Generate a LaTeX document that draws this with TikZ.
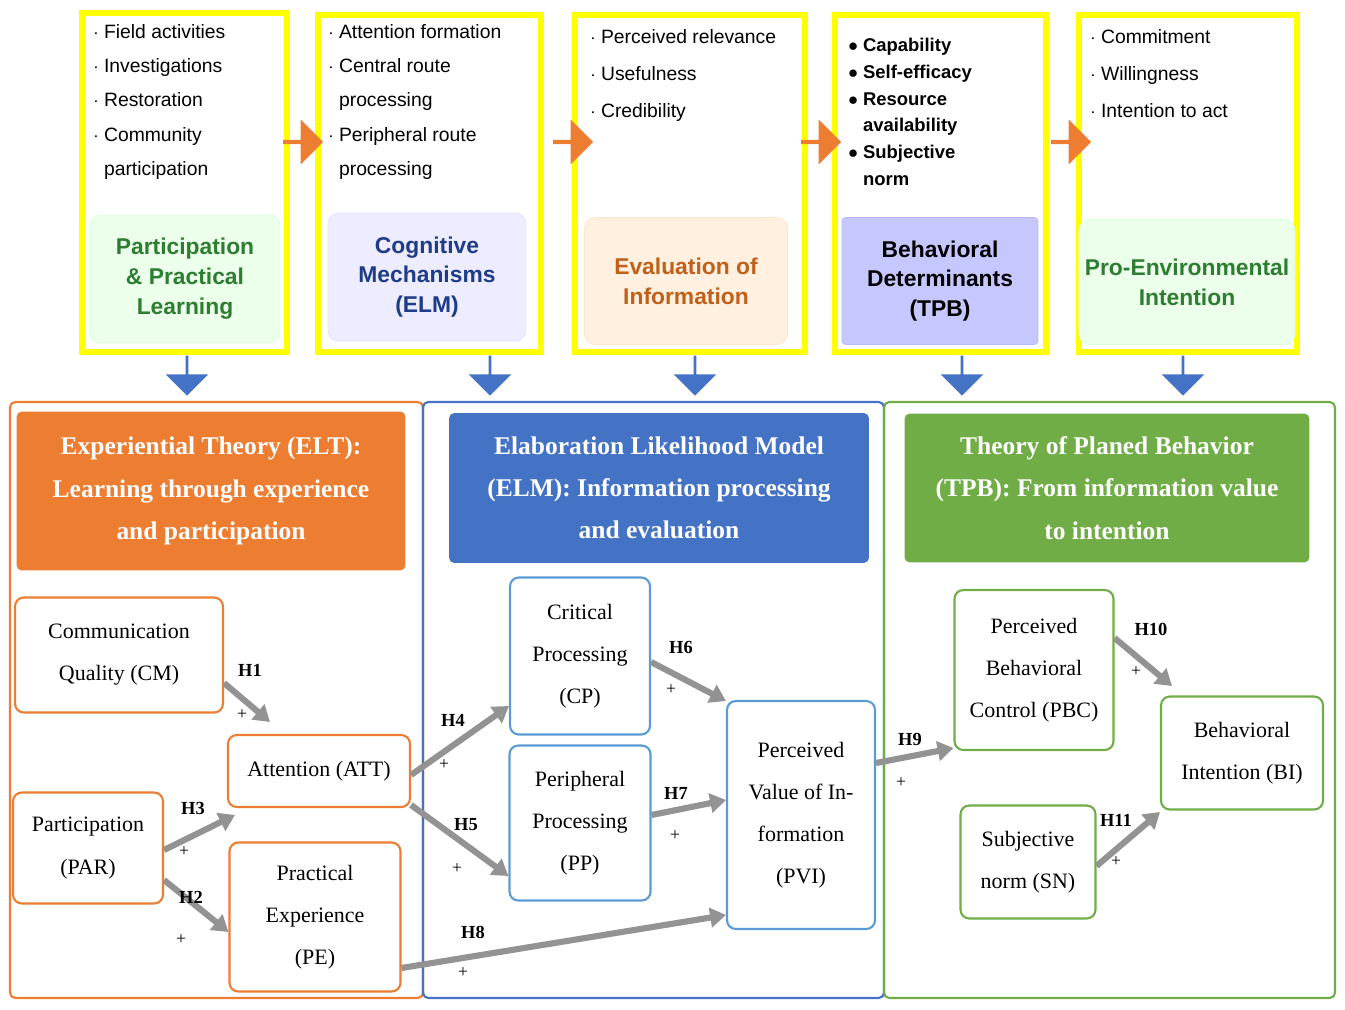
\documentclass[tikz,border=0pt]{standalone}
\usepackage{fontspec}
\setmainfont{Liberation Serif}
\newfontfamily\sansf{Liberation Sans}
\usetikzlibrary{arrows.meta,shapes.arrows}
\definecolor{ylw}{HTML}{FFFF00}
\definecolor{orA}{HTML}{ED7D31}
\definecolor{blA}{HTML}{4472C4}
\definecolor{grA}{HTML}{70AD47}
\definecolor{grT}{HTML}{2E7D32}
\definecolor{blT}{HTML}{1F3C88}
\definecolor{orT}{HTML}{C0601A}
\definecolor{bxblue}{HTML}{5B9BD5}
\tikzset{x=0.02cm,y=-0.02cm,
 ybox/.style={draw=ylw,line width=3pt},
 lab/.style={rounded corners=6pt,font=\sansf\bfseries\fontsize{13}{17}\selectfont,align=center},
 bul/.style={anchor=north west,font=\sansf\fontsize{11}{19.5}\selectfont,align=left,inner sep=0pt},
 hd/.style={text=white,font=\bfseries\fontsize{14.5}{24}\selectfont,align=center},
 nd/.style={draw,line width=1.2pt,rounded corners=5pt,font=\fontsize{12.5}{24}\selectfont,align=center},
 ga/.style={draw=gray!85,line width=3.5pt,-{Triangle[length=9pt,width=11pt]}},
 hl/.style={font=\bfseries\fontsize{10.5}{12}\selectfont},
 pl/.style={font=\fontsize{10}{12}\selectfont},
 oa/.style={single arrow,fill=orA,minimum height=0.8cm,minimum width=0.9cm,single arrow head extend=2pt,inner sep=0pt},
 da/.style={single arrow,fill=blA,shape border rotate=270,minimum height=0.8cm,minimum width=0.85cm,single arrow head extend=3pt,inner sep=0pt}}
\begin{document}
\begin{tikzpicture}
\useasboundingbox (0,0) rectangle (1345,1010);
% top boxes
\draw[ybox] (82,13) rectangle (287,352);
\draw[ybox] (318,15) rectangle (541,352);
\draw[ybox] (575,15) rectangle (805,352);
\draw[ybox] (835,15) rectangle (1046,352);
\draw[ybox] (1079,15) rectangle (1297,352);
\node[lab,fill=green!8,draw=green!15,text=grT,minimum width=3.8cm,minimum height=2.56cm] (l1) at (185,279) {Participation\\\& Practical\\Learning};
\node[lab,fill=blue!7,draw=blue!12,text=blT,minimum width=3.96cm,minimum height=2.56cm] (l2) at (427,277) {Cognitive\\Mechanisms\\(ELM)};
\node[lab,fill=orange!12,draw=orange!20,text=orT,minimum width=4.06cm,minimum height=2.54cm] (l3) at (686,281) {Evaluation of\\Information};
\node[lab,fill=blue!22,draw=blue!28,text=black,minimum width=3.92cm,minimum height=2.54cm,rounded corners=2pt] (l4) at (940,281) {Behavioral\\Determinants\\(TPB)};
\node[lab,fill=green!8,draw=green!15,text=grT,minimum width=4cm,minimum height=2.5cm] (l5) at (1187,282) {Pro-Environmental\\Intention};
\node[bul] (b1) at (93,24) {$\cdot$ Field activities\\$\cdot$ Investigations\\$\cdot$ Restoration\\$\cdot$ Community\\\phantom{$\cdot$ }participation};
\node[bul] (b2) at (328,24) {$\cdot$ Attention formation\\$\cdot$ Central route\\\phantom{$\cdot$ }processing\\$\cdot$ Peripheral route\\\phantom{$\cdot$ }processing};
\node[bul,font=\sansf\fontsize{11}{21}\selectfont] (b3) at (590,29) {$\cdot$ Perceived relevance\\$\cdot$ Usefulness\\$\cdot$ Credibility};
\node[bul,font=\sansf\bfseries\fontsize{10.5}{15.2}\selectfont] (b4) at (848,38) {$\bullet$ Capability\\$\bullet$ Self-efficacy\\$\bullet$ Resource\\\phantom{$\bullet$ }availability\\$\bullet$ Subjective\\\phantom{$\bullet$ }norm};
\node[bul,font=\sansf\fontsize{11}{21}\selectfont] (b5) at (1090,29) {$\cdot$ Commitment\\$\cdot$ Willingness\\$\cdot$ Intention to act};
\foreach \x/\n in {302/oa1,572/oa2,820/oa3,1070/oa4} \node[oa] (\n) at (\x,142) {};
\foreach \x/\n in {187/da1,490/da2,695/da3,962/da4,1183/da5} \node[da] (\n) at (\x,375) {};
% panels
\draw[orA,line width=1.2pt,rounded corners=3pt] (10,402) rectangle (423,998);
\draw[blA,line width=1.2pt,rounded corners=3pt] (423,402) rectangle (884,998);
\draw[grA,line width=1.2pt,rounded corners=3pt] (884,402) rectangle (1335,998);
\node[hd,fill=orA,rounded corners=3pt,minimum width=7.78cm,minimum height=3.18cm] (h1) at (211,491) {Experiential Theory (ELT):\\Learning through experience\\and participation};
\node[hd,fill=blA,rounded corners=3pt,minimum width=8.4cm,minimum height=3cm] (h2) at (659,488) {Elaboration Likelihood Model\\(ELM): Information processing\\and evaluation};
\node[hd,fill=grA,rounded corners=3pt,minimum width=8.1cm,minimum height=2.98cm] (h3) at (1107,488) {Theory of Planed Behavior\\(TPB): From information value\\to intention};
% nodes
\node[nd,draw=orA,minimum width=4.16cm,minimum height=2.3cm] (cm) at (119,655) {Communication\\Quality (CM)};
\node[nd,draw=orA,minimum width=3.64cm,minimum height=1.44cm] (att) at (319,771) {Attention (ATT)};
\node[nd,draw=orA,minimum width=3cm,minimum height=2.22cm,inner sep=1pt] (par) at (88,848) {Participation\\(PAR)};
\node[nd,draw=orA,minimum width=3.42cm,minimum height=2.98cm] (pe) at (315,917) {Practical\\Experience\\(PE)};
\node[nd,draw=bxblue,minimum width=2.8cm,minimum height=3.14cm] (cp) at (580,656) {Critical\\Processing\\(CP)};
\node[nd,draw=bxblue,minimum width=2.82cm,minimum height=3.1cm] (pp) at (580,823) {Peripheral\\Processing\\(PP)};
\node[nd,draw=bxblue,minimum width=2.96cm,minimum height=4.56cm,inner sep=1pt] (pvi) at (801,815) {Perceived\\Value of In-\\formation\\(PVI)};
\node[nd,draw=grA,minimum width=3.18cm,minimum height=3.2cm,inner sep=1pt] (pbc) at (1034,670) {Perceived\\Behavioral\\Control (PBC)};
\node[nd,draw=grA,minimum width=2.7cm,minimum height=2.26cm] (sn) at (1028,862) {Subjective\\norm (SN)};
\node[nd,draw=grA,minimum width=3.24cm,minimum height=2.26cm,inner sep=1pt] (bi) at (1242,753) {Behavioral\\Intention (BI)};
% arrows
\draw[ga] (cm.east|-0,683) -- (270,722);
\draw[ga] (par.east|-0,850) -- (235,815);
\draw[ga] (par.east|-0,880) -- (pe.west|-0,932);
\draw[ga] (att.east|-0,775) -- (cp.west|-0,706);
\draw[ga] (att.east|-0,805) -- (pp.west|-0,876);
\draw[ga] (cp.east|-0,662) -- (pvi.north west|-0,701);
\draw[ga] (pp.east|-0,815) -- (pvi.west|-0,800);
\draw[ga] (pe.east|-0,968) -- (pvi.west|-0,915);
\draw[ga] (pvi.east|-0,763) -- (pbc.west|-0,748);
\draw[ga] (pbc.east|-0,638) -- (1172,686);
\draw[ga] (sn.east|-0,866) -- (bi.west|-0,812);
\foreach \t/\x/\y/\px/\py/\n in {H1/250/670/242/715/a1,H3/193/808/184/852/a3,H2/191/897/181/940/a2,H4/453/720/444/765/a4,H5/466/825/457/869/a5,H6/681/647/671/690/a6,H7/676/793/675/836/a7,H8/473/932/463/973/a8,H9/910/739/901/783/a9,H10/1151/629/1136/672/a10,H11/1116/820/1116/862/a11}{
 \node[hl] (t\n) at (\x,\y) {\t};
 \node[pl] (p\n) at (\px,\py) {+};}
\end{tikzpicture}
\end{document}
